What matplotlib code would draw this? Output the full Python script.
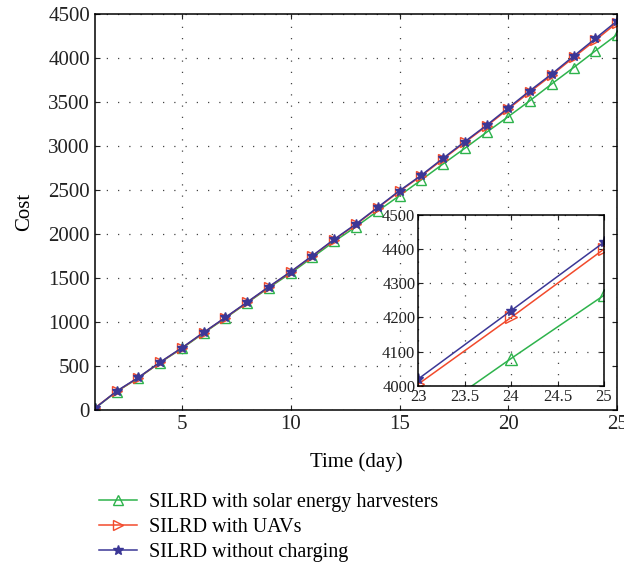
import numpy as np
import matplotlib.pyplot as plt

plt.rcParams['font.family'] = ['Liberation Serif', 'DejaVu Serif']

days = np.arange(1, 26)
solar = [20, 210, 365, 540, 700, 875, 1045, 1218, 1390, 1555, 1735, 1915, 2083,
         2261, 2435, 2614, 2795, 2973, 3155, 3333, 3515, 3705, 3890, 4080, 4265]
uav = [25, 212, 368, 542, 705, 880, 1050, 1223, 1398, 1568, 1750, 1935, 2108,
       2297, 2485, 2660, 2850, 3040, 3225, 3420, 3615, 3805, 4005, 4200, 4400]
nocharge = [20, 216, 371, 545, 708, 883, 1053, 1227, 1402, 1572, 1754, 1940, 2114,
            2303, 2492, 2667, 2860, 3049, 3235, 3432, 3629, 3818, 4020, 4220, 4420]
labels = ['SILRD with solar energy harvesters', 'SILRD with UAVs',
          'SILRD without charging']

green = '#2eb34c'
red = '#f24a2c'
blue = '#3b3796'
grid_style = dict(color='#444444', linestyle=(0, (1, 8)), linewidth=0.9)


def draw(ax, ms):
    ax.plot(days, solar, '-', color=green, marker='^', mfc='none', ms=ms, mew=1.0, lw=1.1,
            label=labels[0])
    ax.plot(days, uav, '-', color=red, marker='>', mfc='none', ms=ms, mew=1.0, lw=1.1,
            label=labels[1])
    ax.plot(days, nocharge, '-', color=blue, marker='*', ms=ms, mew=1.0, lw=1.1,
            label=labels[2])
    ax.grid(True, **grid_style)
    ax.tick_params(direction='in', top=True, right=True, colors='#222222')
    for s in ax.spines.values():
        s.set_linewidth(1.1)


fig = plt.figure(figsize=(6.24, 5.76), dpi=100)
ax = fig.add_axes([0.152, 0.288, 0.837, 0.688])
draw(ax, 7)
ax.set_xlim(1, 25)
ax.set_ylim(0, 4500)
ax.set_xticks([5, 10, 15, 20, 25])
ax.set_yticks(np.arange(0, 4501, 500))
ax.tick_params(labelsize=15)
ax.set_xlabel('Time (day)', fontsize=15, labelpad=13)
ax.set_ylabel('Cost', fontsize=15, labelpad=10)

ins = fig.add_axes([0.670, 0.330, 0.298, 0.297])
ins.set_facecolor('white')
draw(ins, 8)
ins.set_xlim(23, 25)
ins.set_ylim(4000, 4500)
ins.set_xticks([23, 23.5, 24, 24.5, 25])
ins.set_xticklabels(['23', '23.5', '24', '24.5', '25'])
ins.set_yticks(np.arange(4000, 4501, 100))
ins.tick_params(labelsize=12, pad=2)

handles, _ = ax.get_legend_handles_labels()
fig.legend(handles, labels, loc='upper left', bbox_to_anchor=(0.145, 0.158),
           frameon=False, fontsize=14.5, handlelength=1.9, handletextpad=0.6,
           labelspacing=0.3, borderaxespad=0)

fig.savefig('out.png', dpi=100)
